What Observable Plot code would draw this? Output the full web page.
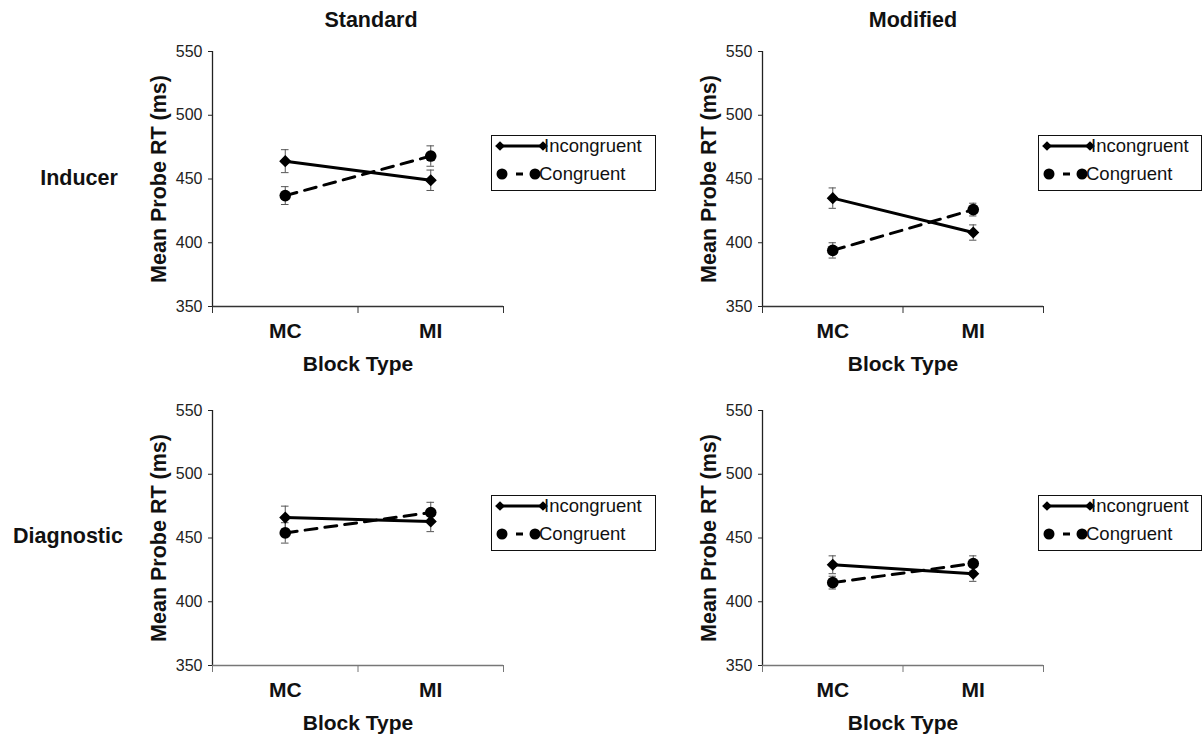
<!DOCTYPE html>
<html>
<head>
<meta charset="utf-8">
<script src="https://cdn.jsdelivr.net/npm/d3@7"></script>
<script src="https://cdn.jsdelivr.net/npm/@observablehq/plot@0.6"></script>
<style>
  body { margin: 0; background: #fff; }
  #root { position: relative; width: 1202px; height: 736px; background: #fff; font-family: "Liberation Sans", Arial, sans-serif; color: #111; }
  .lbl { position: absolute; font-weight: bold; font-size: 21.5px; white-space: nowrap; transform: translate(-50%, -50%); }
  .panel { position: absolute; }
  .legend { position: absolute; border: 1.5px solid #111; box-sizing: border-box; background: #fff; font-size: 18.5px; }
  .legend .row { position: absolute; left: 0; height: 24px; display: flex; align-items: center; }
  .legend svg { display: block; }
  .panel svg [aria-label="y-axis label"] { font-weight: bold; font-size: 21.5px; }
  .panel svg [aria-label="x-axis label"],
  .panel svg [aria-label="x-axis tick label"] { font-weight: bold; font-size: 21px; }
  .panel svg [aria-label="y-axis tick label"] { font-size: 16px; fill: #222; }
</style>
</head>
<body>
<div id="root"></div>
<script>
// ---- data ----
const blocks = ["MC", "MI"];
const yTicks = [350, 400, 450, 500, 550];
const columns = ["Standard", "Modified"];
const rows = ["Inducer", "Diagnostic"];
const seriesNames = ["Incongruent", "Congruent"];

// Standard / Inducer
const stdIndIncong = [464, 449];
const stdIndCong = [437, 468];
const stdIndIncongErr = [9, 8];
const stdIndCongErr = [7, 8];
// Modified / Inducer
const modIndIncong = [435, 408];
const modIndCong = [394, 426];
const modIndIncongErr = [8, 6];
const modIndCongErr = [6, 5];
// Standard / Diagnostic
const stdDiaIncong = [466, 463];
const stdDiaCong = [454, 470];
const stdDiaIncongErr = [9, 8];
const stdDiaCongErr = [8, 8];
// Modified / Diagnostic
const modDiaIncong = [429, 422];
const modDiaCong = [415, 430];
const modDiaIncongErr = [7, 6];
const modDiaCongErr = [5, 6];

const root = document.getElementById("root");

function panel(incong, cong, incErr, congErr, width, left, top, xAxisColor) {
  const inc = blocks.map((b, i) => ({x: i + 0.5, y: incong[i], err: incErr[i], s: seriesNames[0]}));
  const con = blocks.map((b, i) => ({x: i + 0.5, y: cong[i], err: congErr[i], s: seriesNames[1]}));
  const all = inc.concat(con);
  const capW = 0.026;
  const p = Plot.plot({
    width, height: 346,
    marginLeft: 72, marginRight: 10, marginTop: 21, marginBottom: 70,
    x: {domain: [0, 2], axis: null, label: null},
    y: {domain: [350, 550], axis: null, label: null},
    style: {fontFamily: "'Liberation Sans', Arial, sans-serif", fontSize: "16px", color: "#111", background: "transparent", overflow: "visible"},
    marks: [
      Plot.axisY({ticks: yTicks, tickSize: 4, tickPadding: 6, tickFormat: d3.format("d"), label: "Mean Probe RT (ms)", labelAnchor: "center", labelOffset: 62, labelArrow: "none", stroke: "#222"}),
      Plot.axisX({ticks: [0, 1, 2], tickSize: 7, tickFormat: () => "", label: null, stroke: xAxisColor}),
      Plot.axisX({ticks: [0.5, 1.5], tickSize: 0, tickPadding: 17, tickFormat: v => blocks[Math.floor(v)], label: "Block Type", labelAnchor: "center", labelOffset: 64, labelArrow: "none"}),
      Plot.ruleX([0], {stroke: "#222", strokeWidth: 1.3}),
      Plot.ruleY([350], {stroke: xAxisColor, strokeWidth: 1.3}),
      Plot.ruleX(all, {x: "x", y1: d => d.y - d.err, y2: d => d.y + d.err, stroke: "#555", strokeWidth: 1}),
      Plot.ruleY(all, {x1: d => d.x - capW, x2: d => d.x + capW, y: d => d.y + d.err, stroke: "#555", strokeWidth: 1}),
      Plot.ruleY(all, {x1: d => d.x - capW, x2: d => d.x + capW, y: d => d.y - d.err, stroke: "#555", strokeWidth: 1}),
      Plot.line(inc, {x: "x", y: "y", stroke: "#000", strokeWidth: 3}),
      Plot.line(con, {x: "x", y: "y", stroke: "#000", strokeWidth: 3, strokeDasharray: "12,8"}),
      Plot.dot(inc, {x: "x", y: "y", symbol: "diamond2", r: 4.5, fill: "#000", stroke: "#000"}),
      Plot.dot(con, {x: "x", y: "y", r: 5.8, fill: "#000"})
    ]
  });
  const div = document.createElement("div");
  div.className = "panel";
  div.style.left = left + "px";
  div.style.top = top + "px";
  div.appendChild(p);
  root.appendChild(div);
}

function legend(left, top, width) {
  const box = document.createElement("div");
  box.className = "legend";
  box.style.left = left + "px";
  box.style.top = top + "px";
  box.style.width = width + "px";
  box.style.height = "56px";
  const mk = (i, y) => {
    const r = document.createElement("div");
    r.className = "row";
    r.style.top = y + "px";
    const svg = d3.create("svg").attr("width", 56).attr("height", 24);
    if (i === 0) {
      svg.append("line").attr("x1", 8).attr("x2", 51).attr("y1", 12).attr("y2", 12).attr("stroke", "#000").attr("stroke-width", 3);
      for (const cx of [8, 51]) svg.append("path").attr("d", d3.symbol(d3.symbolDiamond2, 60)()).attr("transform", `translate(${cx},12)`).attr("fill", "#000");
    } else {
      svg.append("line").attr("x1", 10).attr("x2", 43).attr("y1", 12).attr("y2", 12).attr("stroke", "#000").attr("stroke-width", 3).attr("stroke-dasharray", "0,14,7,40");
      for (const cx of [10, 43]) svg.append("circle").attr("cx", cx).attr("cy", 12).attr("r", 5.5).attr("fill", "#000");
    }
    r.appendChild(svg.node());
    const t = document.createElement("span");
    t.textContent = seriesNames[i];
    t.style.marginLeft = (i === 0 ? "-4px" : "-9px");
    r.appendChild(t);
    box.appendChild(r);
  };
  mk(0, -2);
  mk(1, 26);
  root.appendChild(box);
}

function label(text, x, y) {
  const d = document.createElement("div");
  d.className = "lbl";
  d.textContent = text;
  d.style.left = x + "px";
  d.style.top = y + "px";
  root.appendChild(d);
}

panel(stdIndIncong, stdIndCong, stdIndIncongErr, stdIndCongErr, 373, 140, 30, "#333");
panel(modIndIncong, modIndCong, modIndIncongErr, modIndCongErr, 363, 690, 30, "#333");
panel(stdDiaIncong, stdDiaCong, stdDiaIncongErr, stdDiaCongErr, 373, 140, 389, "#777");
panel(modDiaIncong, modDiaCong, modDiaIncongErr, modDiaCongErr, 363, 690, 389, "#777");

legend(491, 135, 165);
legend(1038, 135, 164);
legend(491, 495, 165);
legend(1038, 495, 164);

label(columns[0], 371, 20);
label(columns[1], 913, 20);
label(rows[0], 79, 178);
label(rows[1], 68, 536);
</script>
</body>
</html>
